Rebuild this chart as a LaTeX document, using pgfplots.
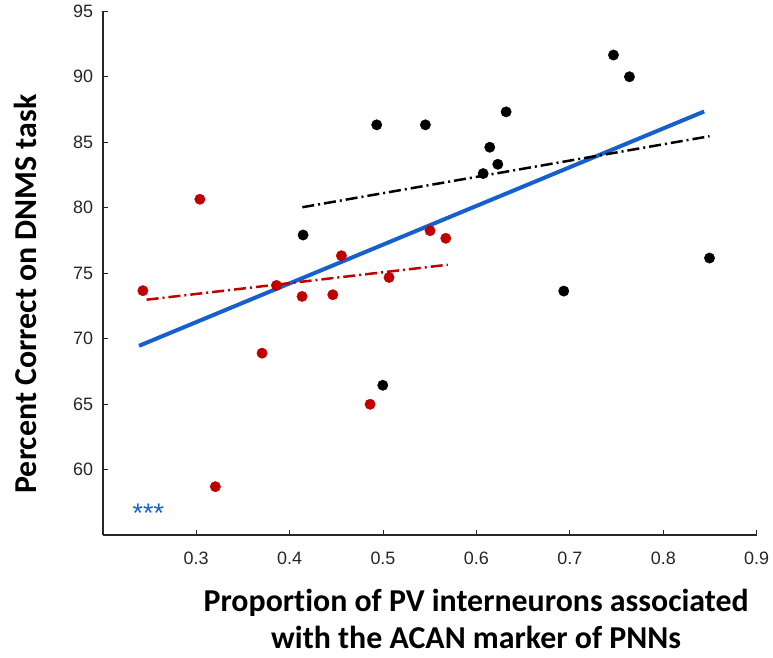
\documentclass[border=0pt]{standalone}
\usepackage{pgfplots}
\pgfplotsset{compat=1.18}
\usepackage{fontspec}
\setmainfont{Liberation Sans}
\newfontfamily\labelfont[Ligatures=NoCommon]{Carlito}
\definecolor{myred}{RGB}{192,0,0}
\definecolor{myblue}{RGB}{21,96,205}
\definecolor{axgray}{RGB}{38,38,38}
\begin{document}
\begin{tikzpicture}
\begin{axis}[
  at={(0,0)}, anchor=south west,
  scale only axis, width=654bp, height=524bp,
  xmin=0.2, xmax=0.9, ymin=55, ymax=95,
  xtick={0.3,0.4,...,0.9}, ytick={60,65,...,95},
  axis lines*=left,
  axis line style={axgray, line width=2.2bp},
  tick style={axgray, line width=0.8bp},
  major tick length=5bp,
  tick align=inside,
  /pgf/number format/assume math mode=true,
  /pgf/number format/.cd, fixed, precision=1, /pgfplots/.cd,
  ticklabel style={font=\fontsize{18}{20}\selectfont, text=axgray},
  xticklabel style={yshift=-13bp},
  yticklabel style={xshift=-6bp},
  clip=false,
  xlabel={Proportion of PV interneurons associated\\with the ACAN marker of PNNs},
  xlabel style={align=center, inner sep=0pt, font=\labelfont\bfseries\fontsize{32}{37.5}\selectfont,
    at={(axis description cs:0.571,0)}, anchor=north, yshift=-53.5bp},
  ylabel={Percent Correct on DNMS task},
  ylabel style={font=\labelfont\bfseries\fontsize{32}{36}\selectfont,
    at={(axis description cs:-0.1009,0.460)}, anchor=base},
]
% blue overall regression
\addplot[myblue, line width=4bp, no marks] coordinates {(0.2389,69.44) (0.8438,87.33)};
% black group regression
\addplot[black, line width=2.5bp, no marks, dash pattern=on 12bp off 4bp on 2bp off 4bp] coordinates {(0.4137,80.02) (0.8495,85.44)};
% red group regression
\addplot[myred, line width=2.5bp, no marks, dash pattern=on 12bp off 4bp on 2bp off 4bp] coordinates {(0.247,72.96) (0.5694,75.63)};
% red points
\addplot[only marks, mark=*, mark size=5.2bp, mark options={fill=myred, draw=myred}] coordinates {
(0.243,73.65) (0.304,80.63) (0.3206,58.69) (0.3706,68.88) (0.386,74.05) (0.4134,73.21)
(0.4463,73.34) (0.4555,76.32) (0.4862,64.98) (0.5065,74.66) (0.5504,78.23) (0.5672,77.65)};
% black points
\addplot[only marks, mark=*, mark size=5.2bp, mark options={fill=black, draw=black}] coordinates {
(0.4145,77.9) (0.4933,86.31) (0.4998,66.43) (0.5454,86.31) (0.6072,82.59) (0.6143,84.6)
(0.6229,83.3) (0.6318,87.3) (0.6935,73.62) (0.7467,91.64) (0.7638,89.98) (0.8495,76.14)};
\node[text=myblue, font=\fontsize{27}{30}\selectfont, anchor=center, yshift=-4bp] at (axis cs:0.2488,56.98) {***};
\end{axis}
\pgfresetboundingbox
\path[use as bounding box] (-102.7bp,-123bp) rectangle (670.3bp,535bp);
\end{tikzpicture}
\end{document}
